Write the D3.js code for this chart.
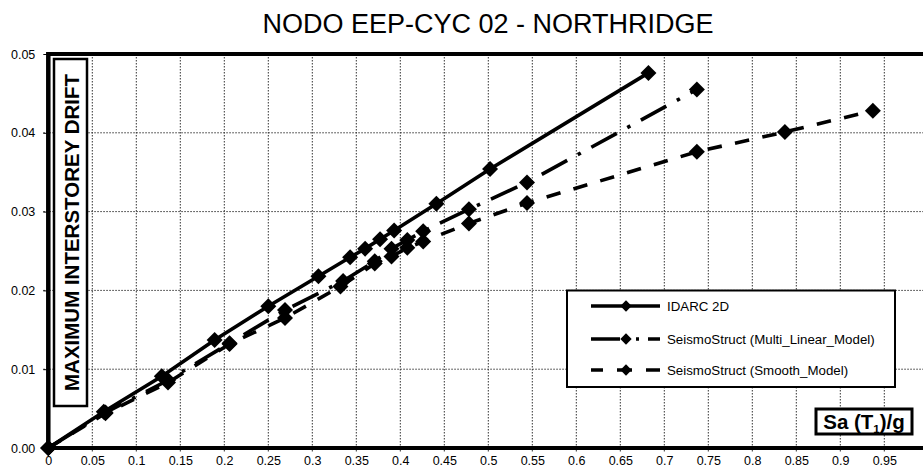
<!DOCTYPE html>
<html>
<head>
<meta charset="utf-8">
<script src="https://cdn.jsdelivr.net/npm/d3@7"></script>
<style>
  html, body { margin: 0; padding: 0; background: #fff; }
  svg { display: block; font-family: Arial, "Liberation Sans", sans-serif; }
</style>
</head>
<body>
<svg id="chart" width="923" height="467"></svg>
<script>
// ---- data ----
const title = "NODO EEP-CYC 02 - NORTHRIDGE";
const yTitle = "MAXIMUM INTERSTOREY DRIFT";
const xTickValues = [0,0.05,0.1,0.15,0.2,0.25,0.3,0.35,0.4,0.45,0.5,0.55,0.6,0.65,0.7,0.75,0.8,0.85,0.9,0.95];
const xTickLabels = ["0","0.05","0.1","0.15","0.2","0.25","0.3","0.35","0.4","0.45","0.5","0.55","0.6","0.65","0.7","0.75","0.8","0.85","0.9","0.95"];
const yTickValues = [0,0.01,0.02,0.03,0.04,0.05];
const yTickLabels = ["0.00","0.01","0.02","0.03","0.04","0.05"];

const idarcSa    = [0, 0.063, 0.129, 0.189, 0.250, 0.307, 0.343, 0.360, 0.377, 0.393, 0.441, 0.502, 0.682];
const idarcDrift = [0, 0.0046, 0.0091, 0.0137, 0.0180, 0.0218, 0.0242, 0.0253, 0.0265, 0.0276, 0.0310, 0.0354, 0.0476];

const multiSa    = [0, 0.065, 0.136, 0.206, 0.269, 0.335, 0.371, 0.390, 0.408, 0.426, 0.478, 0.544, 0.737];
const multiDrift = [0, 0.0045, 0.0086, 0.0133, 0.0175, 0.0212, 0.0237, 0.0253, 0.0264, 0.0275, 0.0303, 0.0337, 0.0455];

const smoothSa    = [0, 0.065, 0.136, 0.206, 0.269, 0.332, 0.371, 0.390, 0.408, 0.426, 0.478, 0.544, 0.737, 0.837, 0.937];
const smoothDrift = [0, 0.0044, 0.0083, 0.0132, 0.0165, 0.0205, 0.0234, 0.0243, 0.0254, 0.0262, 0.0285, 0.0311, 0.0376, 0.0401, 0.0428];

const seriesNames = ["IDARC 2D", "SeismoStruct (Multi_Linear_Model)", "SeismoStruct (Smooth_Model)"];

// ---- build ----
const svg = d3.select("#chart");
const x = d3.scaleLinear().domain([0, 1]).range([48.3, 928.3]);
const y = d3.scaleLinear().domain([0, 0.05]).range([448, 54]);

const series = [
  { name: seriesNames[0], xs: idarcSa, ys: idarcDrift, dash: null, legendDash: null },
  { name: seriesNames[1], xs: multiSa, ys: multiDrift, dash: "29,12,3.5,12", legendDash: "29,16,3,9,12" },
  { name: seriesNames[2], xs: smoothSa, ys: smoothDrift, dash: "14.5,13.5", legendDash: "12,14,15,14,14" }
];

// title
svg.append("text")
  .attr("x", 488).attr("y", 33)
  .attr("text-anchor", "middle")
  .attr("font-size", 27)
  .attr("fill", "#000")
  .text(title);

// gridlines
const grid = svg.append("g");
grid.selectAll("line.vx").data(xTickValues.filter(d => d > 0)).enter().append("line")
  .attr("x1", d => x(d)).attr("x2", d => x(d))
  .attr("y1", y(0.05)).attr("y2", y(0) + 5)
  .attr("stroke", "#333").attr("stroke-width", 1).attr("stroke-dasharray", "1.5,1.5");
grid.selectAll("line.hy").data(yTickValues.filter(d => d > 0 && d < 0.05)).enter().append("line")
  .attr("x1", x(0) - 5).attr("x2", 923)
  .attr("y1", d => y(d)).attr("y2", d => y(d))
  .attr("stroke", "#333").attr("stroke-width", 1).attr("stroke-dasharray", "1.5,1.5");

// axes
const xAxis = d3.axisBottom(x).tickValues(xTickValues).tickFormat((d, i) => xTickLabels[i]).tickSize(0);
const gx = svg.append("g").attr("transform", `translate(0,${y(0)})`).call(xAxis);
gx.select(".domain").remove();
gx.selectAll("text").attr("y", 17).attr("dy", 0).attr("font-size", 12.5).attr("fill", "#000").attr("font-family", "Arial, 'Liberation Sans', sans-serif");

const yAxis = d3.axisLeft(y).tickValues(yTickValues).tickFormat((d, i) => yTickLabels[i]).tickSize(5).tickPadding(8);
const gy = svg.append("g").attr("transform", `translate(${x(0)},0)`).call(yAxis);
gy.select(".domain").remove();
gy.selectAll("line").attr("stroke", "#000");
gy.selectAll("text").attr("font-size", 12.5).attr("fill", "#000").attr("font-family", "Arial, 'Liberation Sans', sans-serif");

// frame lines
svg.append("line").attr("x1", x(0)).attr("x2", 923).attr("y1", y(0.05)).attr("y2", y(0.05))
  .attr("stroke", "#000").attr("stroke-width", 4);
svg.append("line").attr("x1", x(0)).attr("x2", 923).attr("y1", y(0)).attr("y2", y(0))
  .attr("stroke", "#000").attr("stroke-width", 4);
svg.append("line").attr("x1", x(0)).attr("x2", x(0)).attr("y1", y(0.05) - 2).attr("y2", y(0) + 2)
  .attr("stroke", "#000").attr("stroke-width", 4.5);

// series
const line = d3.line().x(d => x(d[0])).y(d => y(d[1]));
const diamond = d3.symbol().type(d3.symbolSquare).size(128);
series.forEach(s => {
  const pts = s.xs.map((v, i) => [v, s.ys[i]]);
  const p = svg.append("path").datum(pts)
    .attr("d", line).attr("fill", "none").attr("stroke", "#000")
    .attr("stroke-width", 3.6);
  if (s.dash) p.attr("stroke-dasharray", s.dash);
  svg.append("g").selectAll("path").data(pts).enter().append("path")
    .attr("d", diamond)
    .attr("transform", d => `translate(${x(d[0])},${y(d[1])}) rotate(45)`)
    .attr("fill", "#000");
});

// y title box
svg.append("rect").attr("x", 54).attr("y", 59).attr("width", 33).attr("height", 347)
  .attr("fill", "#fff").attr("stroke", "#000").attr("stroke-width", 2.5);
svg.append("text")
  .attr("transform", "translate(78.5,232.5) rotate(-90)")
  .attr("text-anchor", "middle")
  .attr("font-size", 20.5).attr("font-weight", "bold")
  .text(yTitle);

// x title box
svg.append("rect").attr("x", 816).attr("y", 409).attr("width", 96).attr("height", 25)
  .attr("fill", "#fff").attr("stroke", "#000").attr("stroke-width", 3);
const xt = svg.append("text").attr("x", 864).attr("y", 428.5).attr("text-anchor", "middle")
  .attr("font-size", 20.5).attr("font-weight", "bold");
xt.append("tspan").text("Sa (T");
xt.append("tspan").attr("font-size", 11.5).attr("dy", 4).text("1");
xt.append("tspan").attr("dy", -4).text(")/g");

// legend
const lg = svg.append("g");
lg.append("rect").attr("x", 567).attr("y", 290.5).attr("width", 328).attr("height", 96.5)
  .attr("fill", "#fff").attr("stroke", "#000").attr("stroke-width", 2);
const legendY = [306, 339, 370];
const legendDiamond = d3.symbol().type(d3.symbolSquare).size(64);
series.forEach((s, i) => {
  const ly = legendY[i];
  const l = lg.append("line").attr("x1", 591).attr("x2", 660).attr("y1", ly).attr("y2", ly)
    .attr("stroke", "#000").attr("stroke-width", 3.6);
  if (s.legendDash) l.attr("stroke-dasharray", s.legendDash);
  lg.append("path").attr("d", legendDiamond)
    .attr("transform", `translate(626,${ly}) rotate(45)`).attr("fill", "#000");
  lg.append("text").attr("x", 667).attr("y", ly + 4.5)
    .attr("font-size", 13.3).attr("fill", "#000").text(s.name);
});
</script>
</body>
</html>
